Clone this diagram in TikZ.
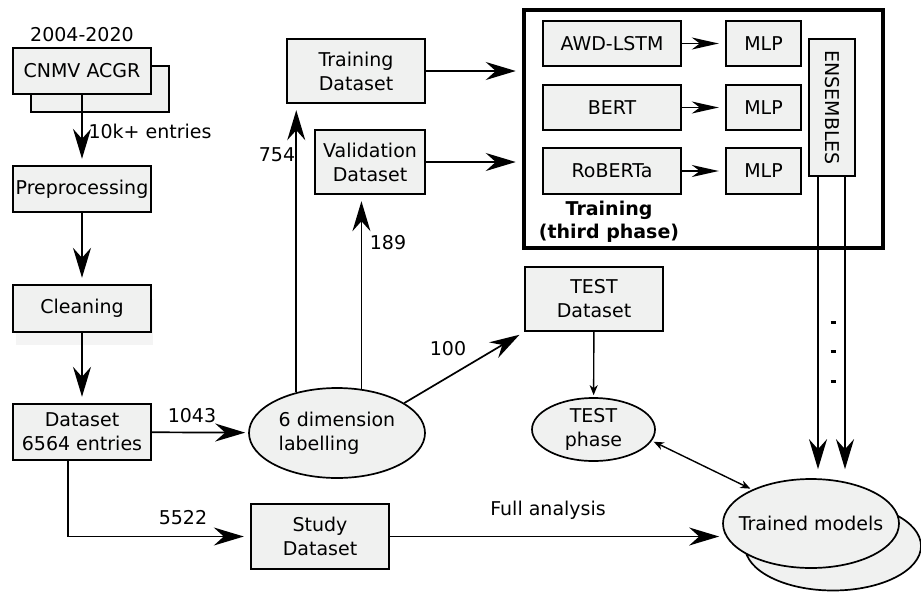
\documentclass[tikz,border=0pt]{standalone}
\usepackage{fontspec}
\setmainfont{DejaVu Sans}
\usepackage{graphicx}
\usetikzlibrary{shapes, arrows.meta, positioning}
\definecolor{boxgray}{RGB}{240, 241, 240}
\definecolor{shadegray}{RGB}{244, 244, 244}

\begin{document}
\begin{tikzpicture}[
  x=1pt, y=-1pt,
  font=\fontsize{19}{24}\selectfont,
  box/.style={draw, line width=2.4pt, fill=boxgray, align=center, inner sep=2pt},
  blob/.style={ellipse, draw, line width=1.7pt, fill=boxgray, align=center, inner sep=0pt},
  conn/.style={line width=1.7pt, -{Stealth[length=30pt, width=18pt, inset=10pt]}, shorten >=6pt},
  mconn/.style={line width=1.7pt, -{Stealth[length=27pt, width=12pt, inset=8pt]}, shorten >=6pt},
  tconn/.style={line width=1.4pt, -{Stealth[length=10pt, width=8pt, inset=3pt]}, shorten >=2pt},
  dconn/.style={line width=1.4pt, {Stealth[length=10pt, width=8pt, inset=3pt]}-{Stealth[length=10pt, width=8pt, inset=3pt]}, shorten >=2pt, shorten <=2pt}
]
  \useasboundingbox (0,0) rectangle (921,592);

  % source and cleaning chain
  \fill[shadegray] (16,299) rectangle (153,345);
  \node[box, minimum width=138pt, minimum height=46pt] (cnmvback) at (100,89) {};
  \node[box, minimum width=138pt, minimum height=46pt] (cnmv) at (82,71) {CNMV ACGR};
  \node (years) at (82,35) {2004-2020};
  \node[box, minimum width=138pt, minimum height=46pt] (prep) at (82,189) {Preprocessing};
  \node[box, minimum width=138pt, minimum height=47pt] (clean) at (82,308.5) {Cleaning};
  \node[box, minimum width=138pt, minimum height=56pt] (data) at (82,432) {Dataset\\6564 entries};

  % labelling and datasets
  \node[blob, minimum width=176pt, minimum height=90pt, align=left] (label) at (337,433) {6 dimension\\labelling};
  \node[box, minimum width=138pt, minimum height=65pt] (study) at (320,536.5) {Study\\Dataset};
  \node[box, minimum width=138pt, minimum height=64pt] (train) at (356,71) {Training\\Dataset};
  \node[box, minimum width=110pt, minimum height=64pt] (valid) at (370,162) {Validation\\Dataset};
  \node[box, minimum width=138pt, minimum height=64pt] (test) at (594,299) {TEST\\Dataset};
  \node[blob, minimum width=123pt, minimum height=63pt] (testph) at (593.5,429.5) {TEST\\phase};

  % training block
  \node[draw, line width=4.5pt, minimum width=359pt, minimum height=238pt] (phase) at (703.5,129) {};
  \node[box, minimum width=138pt, minimum height=45pt] (awd) at (612,43.5) {AWD-LSTM};
  \node[box, minimum width=75pt, minimum height=45pt] (mlp1) at (763.5,43.5) {MLP};
  \node[box, minimum width=138pt, minimum height=45pt] (bert) at (612,107.5) {BERT};
  \node[box, minimum width=75pt, minimum height=45pt] (mlp2) at (763.5,107.5) {MLP};
  \node[box, minimum width=138pt, minimum height=46pt] (roberta) at (612,171) {RoBERTa};
  \node[box, minimum width=75pt, minimum height=46pt] (mlp3) at (763.5,171) {MLP};
  \node[box, minimum width=46pt, minimum height=137pt] (ens) at (832,107.5) {\rotatebox{-90}{ENSEMBLES}};
  \node[font=\fontsize{19}{23}\selectfont\bfseries, align=center] (phaselbl) at (609,222) {Training\\(third phase)};

  % trained models
  \node[blob, minimum width=176pt, minimum height=89pt] (modelsback) at (833,546) {};
  \node[blob, minimum width=176pt, minimum height=89pt, label=center:Trained models] (models) at (811,523.5) {};

  % connectors
  \draw[conn] (cnmv.south) -- (prep.north);
  \node[anchor=west] (entries) at (85,131) {10k+ entries};
  \draw[conn] (prep) -- (clean);
  \draw[conn] (clean) -- (data);
  \draw[conn, shorten >=3pt] (data) -- (label);
  \node (n1043) at (192,416) {1043};
  \draw[conn] ([xshift=-14pt]data.south) |- (study.west);
  \node (n5522) at (183,518) {5522};
  \draw[conn] (label.135) -- (label.135 |- train.south);
  \node (n754) at (277,155) {754};
  \draw[conn] (label.61) -- (label.61 |- valid.south);
  \node (n189) at (388,243) {189};
  \draw[conn, shorten >=5pt] (label.24) -- (test.south west);
  \node (n100) at (448,349) {100};
  \draw[conn] (train.east) -- (train.east -| phase.west);
  \draw[conn] (valid.east) -- (valid.east -| phase.west);
  \draw[mconn] (awd) -- (mlp1);
  \draw[mconn] (bert) -- (mlp2);
  \draw[mconn] (roberta) -- (mlp3);
  \draw[conn, shorten >=3pt] (study.east) -- (study.east -| models.west);
  \node (full) at (548,510) {Full analysis};
  \draw[tconn] (test) -- (testph);
  \draw[dconn] (testph.-11) -- (models.150);
  \draw[conn, shorten >=9pt] ([xshift=-14pt]ens.south) -- ([xshift=-14pt]ens.south |- models.north);
  \draw[conn, shorten >=9pt] ([xshift=13pt]ens.south) -- ([xshift=13pt]ens.south |- models.north);
  \foreach \y in {322,351,381}
    \draw[line width=3pt] (830.5,\y) -- (835.5,\y);
\end{tikzpicture}
\end{document}
